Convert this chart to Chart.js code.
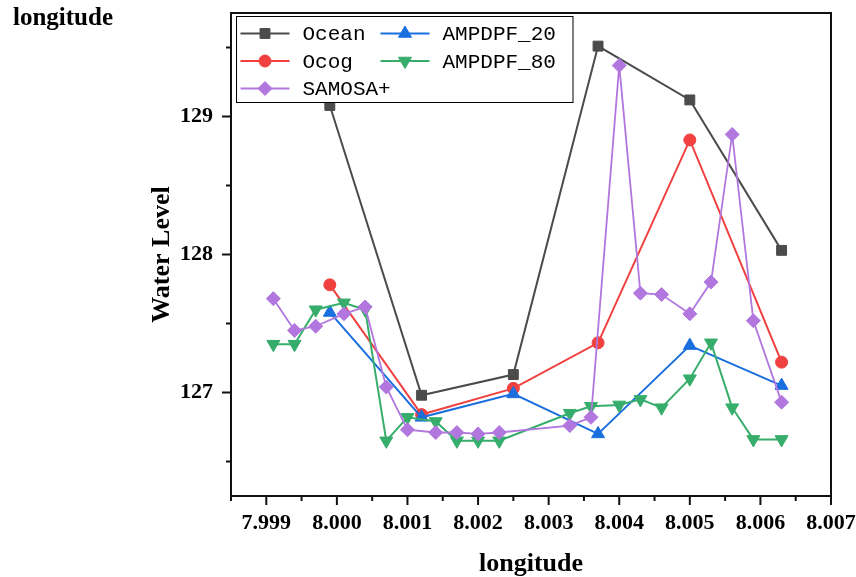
<!DOCTYPE html>
<html>
<head>
<meta charset="utf-8">
<script src="https://cdn.jsdelivr.net/npm/chart.js@4/dist/chart.umd.min.js"></script>
<style>
  html, body { margin: 0; padding: 0; background: #fff; }
  canvas { display: block; }
</style>
</head>
<body>
<canvas id="chart" width="856" height="577"></canvas>
<script>
// longitudes shared by the three sparse series
let sparseLon = [7.9999, 8.0012, 8.0025, 8.0037, 8.0050, 8.0063];
let ocean = [129.08, 126.98, 127.13, 129.51, 129.12, 128.03];
let ocog = [127.78, 126.84, 127.03, 127.36, 128.83, 127.22];
let ampdpf20 = [127.58, 126.82, 126.99, 126.70, 127.34, 127.05];

// longitudes shared by the two dense series
let denseLon = [7.9991, 7.9994, 7.9997, 8.0001, 8.0004, 8.0007, 8.0010, 8.0014, 8.0017, 8.0020, 8.0023,
                8.0033, 8.0036, 8.0040, 8.0043, 8.0046, 8.0050, 8.0053, 8.0056, 8.0059, 8.0063];
let ampdpf80 = [127.35, 127.35, 127.60, 127.65, 127.60, 126.65, 126.82, 126.79, 126.65, 126.65, 126.65,
                126.85, 126.90, 126.91, 126.95, 126.89, 127.10, 127.36, 126.89, 126.66, 126.66];
let samosa = [127.68, 127.45, 127.48, 127.57, 127.62, 127.04, 126.73, 126.71, 126.71, 126.70, 126.71,
              126.76, 126.82, 129.37, 127.72, 127.71, 127.57, 127.80, 128.87, 127.52, 126.93];

let xMajorTicks = [7.999, 8.000, 8.001, 8.002, 8.003, 8.004, 8.005, 8.006, 8.007];
let xMinorTicks = [7.9985, 7.9995, 8.0005, 8.0015, 8.0025, 8.0035, 8.0045, 8.0055, 8.0065];
let yMajorTicks = [127, 128, 129];
let yMinorTicks = [126.5, 127.5, 128.5, 129.5];

let serif = "'Times New Roman', 'Liberation Serif', serif";

function pairs(xs, ys) {
    return ys.map(function(y, i) { return {x: xs[i], y: y}; });
}

function series(label, xs, ys, color, style, radius, rotation, order, width) {
    return {
        label: label,
        data: pairs(xs, ys),
        borderColor: color,
        backgroundColor: color,
        pointBackgroundColor: color,
        pointBorderColor: color,
        pointStyle: style,
        pointRadius: radius,
        pointRotation: rotation,
        pointBorderWidth: 1,
        borderWidth: width,
        tension: 0,
        order: order
    };
}

let datasets = [
    series("Ocean", sparseLon, ocean, "#4b4b4b", "rect", 7, 0, 5, 2),
    series("Ocog", sparseLon, ocog, "#F14040", "circle", 6, 0, 4, 2),
    series("AMPDPF_20", sparseLon, ampdpf20, "#1A6FDF", "triangle", 7.5, 0, 3, 2),
    series("AMPDPF_80", denseLon, ampdpf80, "#37AD6B", "triangle", 7.5, 180, 2, 2),
    series("SAMOSA+", denseLon, samosa, "#B177DE", "rectRot", 7, 0, 1, 1.8)
];

// frame, tick marks, corner text and the two-column legend
let decorations = {
    id: "decorations",
    afterDatasetsDraw: function(chart) {
        let ctx = chart.ctx;
        let a = chart.chartArea;
        let xs = chart.scales.x, ys = chart.scales.y;
        ctx.save();
        ctx.strokeStyle = "#111";
        ctx.lineWidth = 2;
        ctx.strokeRect(a.left, a.top, a.right - a.left, a.bottom - a.top);

        ctx.beginPath();
        xMajorTicks.forEach(function(v) {
            let p = xs.getPixelForValue(v);
            ctx.moveTo(p, a.bottom); ctx.lineTo(p, a.bottom + 9);
        });
        xMinorTicks.forEach(function(v) {
            let p = xs.getPixelForValue(v);
            ctx.moveTo(p, a.bottom); ctx.lineTo(p, a.bottom + 5);
        });
        yMajorTicks.forEach(function(v) {
            let p = ys.getPixelForValue(v);
            ctx.moveTo(a.left, p); ctx.lineTo(a.left - 9, p);
        });
        yMinorTicks.forEach(function(v) {
            let p = ys.getPixelForValue(v);
            ctx.moveTo(a.left, p); ctx.lineTo(a.left - 5, p);
        });
        ctx.stroke();

        ctx.fillStyle = "#000";
        ctx.font = "bold 25px " + serif;
        ctx.textAlign = "left";
        ctx.textBaseline = "alphabetic";
        ctx.fillText("longitude", 13, 25);

        // legend box
        let bx = a.left + 5.5, by = a.top + 3.5, bw = 336.5, bh = 86;
        ctx.fillStyle = "#fff";
        ctx.fillRect(bx, by, bw, bh);
        ctx.strokeStyle = "#000";
        ctx.lineWidth = 1;
        ctx.strokeRect(bx, by, bw, bh);

        let slots = [[0, 0], [0, 1], [1, 0], [1, 1], [0, 2]];
        let colX = [bx + 4, bx + 144];
        let rowY = [by + 17, by + 44.5, by + 72];
        ctx.font = "21px 'Liberation Mono', 'DejaVu Sans Mono', monospace";
        ctx.textBaseline = "middle";
        datasets.forEach(function(ds, i) {
            let s = slots[i];
            let x0 = colX[s[0]], y0 = rowY[s[1]];
            ctx.strokeStyle = ds.borderColor;
            ctx.fillStyle = ds.borderColor;
            ctx.lineWidth = 2;
            ctx.beginPath();
            ctx.moveTo(x0, y0); ctx.lineTo(x0 + 49, y0);
            ctx.stroke();
            ctx.lineWidth = 1;
            Chart.helpers.drawPoint(ctx, {
                pointStyle: ds.pointStyle, radius: ds.pointRadius,
                rotation: ds.pointRotation, borderWidth: 1
            }, x0 + 24.5, y0);
            ctx.fillStyle = "#000";
            ctx.fillText(ds.label, x0 + 62, y0 + 1);
        });
        ctx.restore();
    }
};

new Chart(document.getElementById("chart").getContext("2d"), {
    type: "line",
    data: { datasets: datasets },
    options: {
        responsive: false,
        animation: false,
        devicePixelRatio: 1,
        layout: { padding: { left: 0, right: 25, top: 13, bottom: 0 } },
        plugins: {
            legend: { display: false },
            tooltip: { enabled: false }
        },
        scales: {
            x: {
                type: "linear",
                min: 7.9985,
                max: 8.007,
                afterBuildTicks: function(s) { s.ticks = xMajorTicks.map(function(v) { return {value: v}; }); },
                afterFit: function(s) { s.height = 81; s.paddingLeft = 0; s.paddingRight = 0; },
                grid: { display: false, drawTicks: false },
                border: { display: false },
                ticks: {
                    autoSkip: false,
                    maxRotation: 0,
                    padding: 14,
                    color: "#000",
                    font: { family: serif, size: 22, weight: "bold" },
                    callback: function(v) { return Number(v).toFixed(3); }
                },
                title: {
                    display: true,
                    text: "longitude",
                    color: "#000",
                    font: { family: serif, size: 26, weight: "bold" },
                    padding: { top: 0, bottom: -3 }
                }
            },
            y: {
                type: "linear",
                min: 126.25,
                max: 129.75,
                afterBuildTicks: function(s) { s.ticks = yMajorTicks.map(function(v) { return {value: v}; }); },
                afterFit: function(s) { s.width = 231; s.paddingTop = 0; s.paddingBottom = 0; },
                grid: { display: false, drawTicks: false },
                border: { display: false },
                ticks: {
                    padding: 18,
                    color: "#000",
                    font: { family: serif, size: 22, weight: "bold" },
                    callback: function(v) { return String(v); }
                },
                title: {
                    display: true,
                    text: "Water Level",
                    color: "#000",
                    font: { family: serif, size: 26, weight: "bold" },
                    padding: { top: 147, bottom: 0 }
                }
            }
        }
    },
    plugins: [decorations]
});
</script>
</body>
</html>
